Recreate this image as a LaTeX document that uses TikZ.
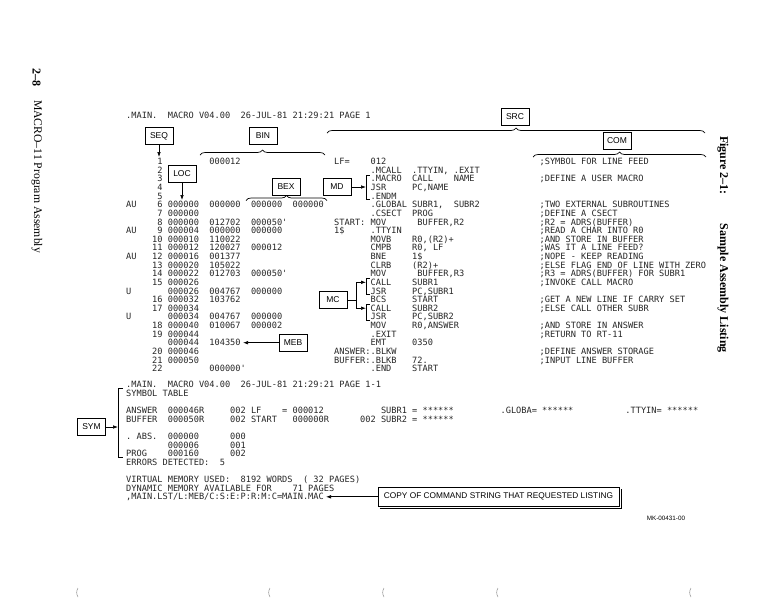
\documentclass[tikz,border=0pt]{standalone}
\usepackage{fontspec}
\newfontfamily\lstfont{DejaVu Sans Mono}
\newfontfamily\tagfont{Liberation Sans}
\newfontfamily\capfont{Liberation Serif}
\usetikzlibrary{decorations.pathreplacing,calc,arrows.meta}

\begin{document}
\begin{tikzpicture}[x=1pt,y=-1pt,
  lst/.style={font=\lstfont\fontsize{8.64}{10}\selectfont\frenchspacing, text=black!85, anchor=west, inner sep=0pt, text height=6.3pt, text depth=0pt},
  tag/.style={draw, line width=0.7pt, font=\tagfont\fontsize{8.5}{10}\selectfont, minimum width=28pt, minimum height=17pt, inner sep=2pt},
  brc/.style={decorate, decoration={brace, amplitude=5pt}, line width=0.7pt},
  pnt/.style={-{Latex[length=5pt,width=3.6pt]}, line width=0.7pt},
  bkt/.style={line width=0.7pt}]
\useasboundingbox (0,0) rectangle (784,603);

%%%%%%%% listing, page 1
\begin{scope}[xshift=126pt, yshift=-161.5pt, x=5.2pt, y=-8.63pt]
\node[lst] (hdA) at (0,-5.3) {.MAIN.~~MACRO~V04.00~~26-JUL-81~21:29:21~PAGE~1};
\node[lst] (a0) at (0,0) {~~~~~~1~~~~~~~~~000012};
\node[lst] (b0) at (40,0) {LF=~~~~012};
\node[lst] (c0) at (79.5,0) {;SYMBOL FOR LINE FEED};
\node[lst] (a1) at (0,1) {~~~~~~2};
\node[lst] (b1) at (47,1) {.MCALL~~.TTYIN,~.EXIT};
\node[lst] (a2) at (0,2) {~~~~~~3};
\node[lst] (b2) at (47,2) {.MACRO~~CALL~~~~NAME};
\node[lst] (c2) at (79.5,2) {;DEFINE A USER MACRO};
\node[lst] (a3) at (0,3) {~~~~~~4};
\node[lst] (b3) at (47,3) {JSR~~~~~PC,NAME};
\node[lst] (a4) at (0,4) {~~~~~~5};
\node[lst] (b4) at (47,4) {.ENDM};
\node[lst] (a5) at (0,5) {AU~~~~6~000000~~000000~~000000~~000000};
\node[lst] (b5) at (47,5) {.GLOBAL~SUBR1,~~SUBR2};
\node[lst] (c5) at (79.5,5) {;TWO EXTERNAL SUBROUTINES};
\node[lst] (a6) at (0,6) {~~~~~~7~000000};
\node[lst] (b6) at (47,6) {.CSECT~~PROG};
\node[lst] (c6) at (79.5,6) {;DEFINE A CSECT};
\node[lst] (a7) at (0,7) {~~~~~~8~000000~~012702~~000050'};
\node[lst] (b7) at (40,7) {START:~MOV~~~~~~BUFFER,R2};
\node[lst] (c7) at (79.5,7) {;R2 = ADRS(BUFFER)};
\node[lst] (a8) at (0,8) {AU~~~~9~000004~~000000~~000000};
\node[lst] (b8) at (40,8) {1\$~~~~~.TTYIN};
\node[lst] (c8) at (79.5,8) {;READ A CHAR INTO R0};
\node[lst] (a9) at (0,9) {~~~~~10~000010~~110022};
\node[lst] (b9) at (47,9) {MOVB~~~~R0,(R2)+};
\node[lst] (c9) at (79.5,9) {;AND STORE IN BUFFER};
\node[lst] (a10) at (0,10) {~~~~~11~000012~~120027~~000012};
\node[lst] (b10) at (47,10) {CMPB~~~~R0,~LF};
\node[lst] (c10) at (79.5,10) {;WAS IT A LINE FEED?};
\node[lst] (a11) at (0,11) {AU~~~12~000016~~001377};
\node[lst] (b11) at (47,11) {BNE~~~~~1\$};
\node[lst] (c11) at (79.5,11) {;NOPE - KEEP READING};
\node[lst] (a12) at (0,12) {~~~~~13~000020~~105022};
\node[lst] (b12) at (47,12) {CLRB~~~~(R2)+};
\node[lst] (c12) at (79.5,12) {;ELSE FLAG END OF LINE WITH ZERO};
\node[lst] (a13) at (0,13) {~~~~~14~000022~~012703~~000050'};
\node[lst] (b13) at (47,13) {MOV~~~~~~BUFFER,R3};
\node[lst] (c13) at (79.5,13) {;R3 = ADRS(BUFFER) FOR SUBR1};
\node[lst] (a14) at (0,14) {~~~~~15~000026};
\node[lst] (b14) at (47,14) {CALL~~~~SUBR1};
\node[lst] (c14) at (79.5,14) {;INVOKE CALL MACRO};
\node[lst] (a15) at (0,15) {U~~~~~~~000026~~004767~~000000};
\node[lst] (b15) at (47,15) {JSR~~~~~PC,SUBR1};
\node[lst] (a16) at (0,16) {~~~~~16~000032~~103762};
\node[lst] (b16) at (47,16) {BCS~~~~~START};
\node[lst] (c16) at (79.5,16) {;GET A NEW LINE IF CARRY SET};
\node[lst] (a17) at (0,17) {~~~~~17~000034};
\node[lst] (b17) at (47,17) {CALL~~~~SUBR2};
\node[lst] (c17) at (79.5,17) {;ELSE CALL OTHER SUBR};
\node[lst] (a18) at (0,18) {U~~~~~~~000034~~004767~~000000};
\node[lst] (b18) at (47,18) {JSR~~~~~PC,SUBR2};
\node[lst] (a19) at (0,19) {~~~~~18~000040~~010067~~000002};
\node[lst] (b19) at (47,19) {MOV~~~~~R0,ANSWER};
\node[lst] (c19) at (79.5,19) {;AND STORE IN ANSWER};
\node[lst] (a20) at (0,20) {~~~~~19~000044};
\node[lst] (b20) at (47,20) {.EXIT};
\node[lst] (c20) at (79.5,20) {;RETURN TO RT-11};
\node[lst] (a21) at (0,21) {~~~~~~~~000044~~104350};
\node[lst] (b21) at (47,21) {EMT~~~~~0350};
\node[lst] (a22) at (0,22) {~~~~~20~000046};
\node[lst] (b22) at (40,22) {ANSWER:.BLKW};
\node[lst] (c22) at (79.5,22) {;DEFINE ANSWER STORAGE};
\node[lst] (a23) at (0,23) {~~~~~21~000050};
\node[lst] (b23) at (40,23) {BUFFER:.BLKB~~~72.};
\node[lst] (c23) at (79.5,23) {;INPUT LINE BUFFER};
\node[lst] (a24) at (0,24) {~~~~~22~~~~~~~~~000000'};
\node[lst] (b24) at (47,24) {.END~~~~START};
%%%%%%%% page 1-1, symbol table
\node[lst] (hdB) at (0,25.85) {.MAIN.~~MACRO~V04.00~~26-JUL-81~21:29:21~PAGE~1-1};
\node[lst] (symt) at (0,26.85) {SYMBOL TABLE};
\node[lst] (s1a) at (0,28.85) {ANSWER~~000046R~~~~~002};
\node[lst] (s1b) at (24,28.85) {LF~~~~=~000012};
\node[lst] (s1c) at (49,28.85) {SUBR1~=~******};
\node[lst] (s1d) at (72,28.85) {.GLOBA=~******};
\node[lst] (s1e) at (96,28.85) {.TTYIN=~******};
\node[lst] (s2a) at (0,29.85) {BUFFER~~000050R~~~~~002};
\node[lst] (s2b) at (24,29.85) {START~~~000000R~~~~~~002};
\node[lst] (s2c) at (49,29.85) {SUBR2~=~******};
\node[lst] (s3) at (0,31.85) {.~ABS.~~000000~~~~~~000};
\node[lst] (s4) at (8,32.85) {000006~~~~~~001};
\node[lst] (s5) at (0,33.85) {PROG~~~~000160~~~~~~002};
\node[lst] (err) at (0,34.85) {ERRORS~DETECTED:~~5};
\node[lst] (vm) at (0,36.85) {VIRTUAL~MEMORY~USED:~~8192~WORDS~~(~32~PAGES)};
\node[lst] (dm) at (0,37.85) {DYNAMIC~MEMORY~AVAILABLE~FOR~~~~71~PAGES};
\node[lst] (cmd) at (0,38.85) {,MAIN.LST/L:MEB/C:S:E:P:R:M:C=MAIN.MAC};
\end{scope}

%%%%%%%% field tags
\node[tag] (tseq) at (159,136) {SEQ};
\node[tag] (tbin) at (263,136) {BIN};
\node[tag] (tsrc) at (515,117) {SRC};
\node[tag] (tcom) at (617,141) {COM};
\node[tag] (tloc) at (182,174) {LOC};
\node[tag] (tbex) at (286,187) {BEX};
\node[tag] (tmd) at (337,187) {MD};
\node[tag] (tmc) at (333,300) {MC};
\node[tag] (tmeb) at (293,342.7) {MEB};
\node[tag] (tsym) at (91.5,427) {SYM};
\node[tag, font=\tagfont\fontsize{8.3}{10}\selectfont, minimum width=241pt, minimum height=19pt] (tcopy) at (498.5,496.8) {COPY OF COMMAND STRING THAT REQUESTED LISTING};
\draw[line width=1pt] ([xshift=2pt,yshift=-1.8pt]tcopy.south west) -| ([xshift=2pt,yshift=-1.8pt]tcopy.north east); %shadow

\coordinate (seqk) at (159,157);
\coordinate (lock) at (182,200);
\coordinate (mdk) at (366,187);
\coordinate (mcj) at (356,300);
\coordinate (mck1) at (366,282.3);
\coordinate (mck2) at (366,308.2);
\coordinate (mebk) at (243,342.7);
\coordinate (symk) at (118,427);
\coordinate (cpk) at (326,496.8);

\draw[pnt] (tseq.south) -- (seqk);
\draw[pnt] (tloc.south) -- (lock);
\draw[pnt] (tmd.east) -- (mdk);
\draw[bkt] (tmc.east) -- (mcj);
\draw[pnt] (mcj) |- (mck1);
\draw[pnt] (mcj) |- (mck2);
\draw[pnt] (tmeb.west) -- (mebk);
\draw[pnt] (tsym.east) -- (symk);
\draw[pnt] (tcopy.west) -- (cpk);

%braces
\draw[brc] (200,155) -- (325,155); %BIN
\draw[brc] (327,133) -- (705,133); %SRC
\draw[brc] (533,157) -- (706,157); %COM
\draw[brc] (246,200.5) -- (327,200.5); %BEX

%brackets
\draw[bkt] (369.5,175.3) -| (366,199.6) -- (369.5,199.6); %macro def
\draw[bkt] (369.5,278.8) -| (366,294.6) -- (369.5,294.6); %call 1
\draw[bkt] (369.5,304.7) -| (366,320.5) -- (369.5,320.5); %call 2
\draw[bkt] (123,388.5) -| (118,457) -- (123,457); %symbol table

%%%%%%%% page margins
\node[font=\capfont\bfseries\fontsize{12}{14}\selectfont, rotate=-90] (pgno) at (36.5,77.5) {2–8};
\node[font=\capfont\fontsize{11.7}{14}\selectfont, rotate=-90] (chap) at (37,176.5) {MACRO–11 Program Assembly};
\node[font=\capfont\bfseries\fontsize{12}{14}\selectfont, rotate=-90] (figcap) at (723,244.5) {Figure 2–1:\hspace{2.4em}Sample Assembly Listing};
\node[font=\tagfont\fontsize{6.3}{7}\selectfont] (mkno) at (666,518) {MK-00431-00};

\foreach \xm in {78,270,384,498,691} \draw[black!45, line width=0.5pt] (\xm,588) to[bend right=30] (\xm,597);
\end{tikzpicture}
\end{document}
